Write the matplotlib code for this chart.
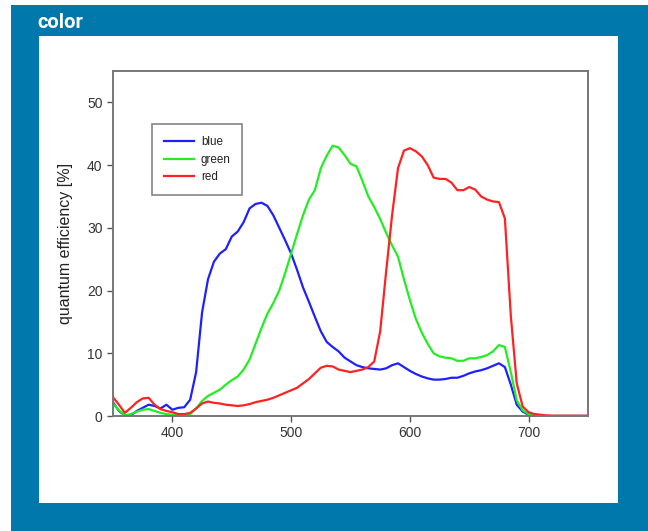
import matplotlib
matplotlib.use("Agg")
import matplotlib.pyplot as plt
from matplotlib.patches import Rectangle

wavelength = [350, 355, 360, 365, 370, 375, 380, 385, 390, 395,
              400, 405, 410, 415, 420, 425, 430, 435, 440, 445,
              450, 455, 460, 465, 470, 475, 480, 485, 490, 495,
              500, 505, 510, 515, 520, 525, 530, 535, 540, 545,
              550, 555, 560, 565, 570, 575, 580, 585, 590, 595,
              600, 605, 610, 615, 620, 625, 630, 635, 640, 645,
              650, 655, 660, 665, 670, 675, 680, 685, 690, 695,
              700, 705, 710, 715, 720, 730, 740, 750]

blue = [2.2, 0.8, 0.1, 0.1, 0.8, 1.3, 1.8, 1.6, 1.2, 1.8,
        1.0, 1.3, 1.4, 2.6, 7.0, 16.5, 21.8, 24.6, 25.9, 26.6,
        28.6, 29.4, 30.9, 33.1, 33.8, 34.0, 33.5, 32.0, 30.0, 28.0,
        25.9, 23.3, 20.5, 18.2, 15.8, 13.5, 11.8, 11.0, 10.3, 9.3,
        8.7, 8.1, 7.8, 7.6, 7.5, 7.4, 7.6, 8.1, 8.4, 7.8,
        7.2, 6.7, 6.3, 6.0, 5.8, 5.8, 5.9, 6.1, 6.1, 6.4,
        6.8, 7.1, 7.3, 7.6, 8.0, 8.4, 7.8, 5.0, 1.8, 0.7,
        0.2, 0.05, 0.0, 0.0, 0.0, 0.0, 0.0, 0.0]

green = [2.0, 0.9, 0.1, 0.3, 0.7, 1.0, 1.1, 0.8, 0.5, 0.3,
         0.2, 0.1, 0.1, 0.3, 1.2, 2.4, 3.2, 3.7, 4.2, 5.0,
         5.7, 6.3, 7.4, 9.0, 11.5, 14.0, 16.3, 18.0, 20.0, 22.8,
         25.9, 29.0, 32.0, 34.5, 36.0, 39.5, 41.5, 43.1, 42.8, 41.6,
         40.2, 39.8, 37.5, 35.0, 33.3, 31.4, 29.2, 27.2, 25.4, 21.8,
         18.5, 15.5, 13.3, 11.5, 10.0, 9.5, 9.3, 9.2, 8.8, 8.8,
         9.2, 9.2, 9.4, 9.7, 10.3, 11.3, 11.0, 7.0, 2.5, 0.9,
         0.3, 0.1, 0.0, 0.0, 0.0, 0.0, 0.0, 0.0]

red = [3.0, 1.8, 0.5, 1.3, 2.2, 2.8, 2.9, 1.8, 1.1, 0.8,
       0.6, 0.3, 0.3, 0.5, 1.2, 2.0, 2.3, 2.1, 2.0, 1.8,
       1.7, 1.6, 1.7, 1.9, 2.2, 2.4, 2.6, 2.9, 3.3, 3.7,
       4.1, 4.5, 5.2, 5.9, 6.8, 7.7, 8.0, 7.9, 7.4, 7.2,
       7.0, 7.2, 7.4, 7.8, 8.7, 13.5, 23.0, 32.0, 39.5, 42.3,
       42.7, 42.2, 41.4, 40.0, 38.0, 37.8, 37.8, 37.2, 36.0, 36.0,
       36.5, 36.1, 35.0, 34.5, 34.2, 34.1, 31.5, 16.0, 5.2, 1.5,
       0.6, 0.3, 0.2, 0.1, 0.05, 0.05, 0.05, 0.05]

series_names = ["blue", "green", "red"]
series_colors = ["#2020ff", "#22ee22", "#ff2222"]
x_ticks = [400, 500, 600, 700]
y_ticks = [0, 10, 20, 30, 40, 50]
title_text = "color"
y_label = "quantum efficiency [%]"

plt.rcParams['font.family'] = ['Liberation Sans', 'DejaVu Sans']

W, H = 648, 531
fig = plt.figure(figsize=(W / 100, H / 100), dpi=100)
fig.patch.set_facecolor("white")

frame_blue = "#0078ab"
fig.patches.append(Rectangle((11 / W, 0), 1 - 11 / W, (H - 5) / H,
                             transform=fig.transFigure, facecolor=frame_blue,
                             edgecolor="none", zorder=-2))
fig.patches.append(Rectangle((39 / W, (H - 503) / H), (618 - 39) / W, (503 - 36) / H,
                             transform=fig.transFigure, facecolor="white",
                             edgecolor="none", zorder=-1))
fig.text(37 / W, 1 - 28 / H, title_text, color="white", fontsize=14.5,
         fontweight="bold", family=["Roboto", "DejaVu Sans"], va="baseline", ha="left")

ax = fig.add_axes([113 / W, (H - 416) / H, (588 - 113) / W, (416 - 71) / H])
ax.set_facecolor("white")

for vals, name, col in zip([blue, green, red], series_names, series_colors):
    ax.plot(wavelength, vals, color=col, lw=1.6, label=name)

ax.set_xlim(350, 750)
ax.set_ylim(0, 55)
ax.set_xticks(x_ticks)
ax.set_yticks(y_ticks)
ax.tick_params(direction="out", length=4, width=1, color="#555555",
               labelcolor="#333333", labelsize=10)
for s in ax.spines.values():
    s.set_color("#777777")
    s.set_linewidth(1.4)
ax.set_ylabel(y_label, fontsize=11.5, color="#222222", labelpad=10)

leg = ax.legend(loc="upper left", bbox_to_anchor=(0.082, 0.846), fontsize=8.4,
                frameon=True, fancybox=False, handlelength=2.6, borderpad=1.0,
                labelspacing=0.5, handletextpad=0.6, borderaxespad=0)
leg.get_frame().set_edgecolor("#666666")
leg.get_frame().set_linewidth(1.2)
for t in leg.get_texts():
    t.set_color("#222222")

fig.savefig("out.png", dpi=100)
